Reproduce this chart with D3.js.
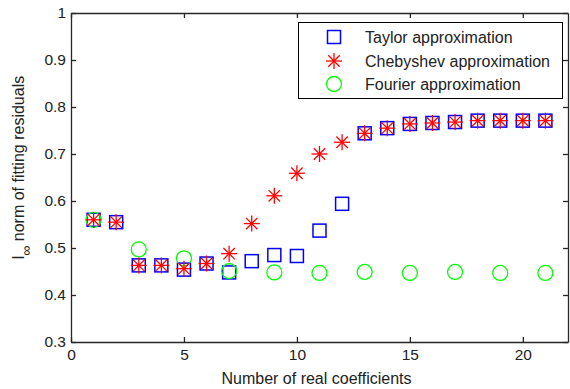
<!DOCTYPE html>
<html>
<head>
<meta charset="utf-8">
<script src="https://cdn.jsdelivr.net/npm/d3@7"></script>
<style>
  body { margin: 0; background: #fff; }
  svg text { font-family: "Liberation Sans", Arial, sans-serif; fill: #222; }
</style>
</head>
<body>
<div id="chart"></div>
<script>
// values
const taylorX = d3.range(1, 22);
const taylorY = [0.560, 0.555, 0.463, 0.463, 0.454, 0.467, 0.448, 0.472, 0.485, 0.483, 0.537,
                 0.594, 0.744, 0.755, 0.764, 0.766, 0.768, 0.771, 0.771, 0.771, 0.771];
const chebX = d3.range(1, 22);
const chebY = [0.560, 0.555, 0.463, 0.463, 0.456, 0.467, 0.488, 0.552, 0.611, 0.659, 0.700,
               0.725, 0.744, 0.755, 0.764, 0.766, 0.768, 0.771, 0.771, 0.771, 0.771];
const fourierX = [1, 3, 5, 7, 9, 11, 13, 15, 17, 19, 21];
const fourierY = [0.560, 0.497, 0.478, 0.451, 0.448, 0.447, 0.449, 0.447, 0.449, 0.447, 0.447];
const xTicks = [0, 5, 10, 15, 20];
const yTicks = [0.3, 0.4, 0.5, 0.6, 0.7, 0.8, 0.9, 1];
const legendLabels = ['Taylor approximation', 'Chebyshev approximation', 'Fourier approximation'];

let margin = { top: 13, right: 2, bottom: 47, left: 71 };
let W = 570, H = 389;
let width = W - margin.left - margin.right;
let height = H - margin.top - margin.bottom;

let svg = d3.select('#chart').append('svg')
    .attr('width', W).attr('height', H);
let g = svg.append('g')
    .attr('transform', 'translate(' + margin.left + ',' + margin.top + ')');

let x = d3.scaleLinear().domain([0, 22]).range([0, width]);
let y = d3.scaleLinear().domain([0.3, 1]).range([height, 0]);

function styleAxis(sel) {
    sel.selectAll('path').attr('stroke', '#262626').attr('stroke-width', 1.3);
    sel.selectAll('line').attr('stroke', '#262626').attr('stroke-width', 1.3);
    sel.selectAll('text').style('font-size', '15.5px').attr('fill', '#222');
}

g.append('g').attr('transform', 'translate(0,' + height + ')')
    .call(d3.axisBottom(x).tickValues(xTicks).tickSize(-5).tickSizeOuter(0).tickPadding(7)
        .tickFormat(d3.format('d')))
    .call(styleAxis);
g.append('g')
    .call(d3.axisTop(x).tickValues(xTicks).tickSize(-5).tickSizeOuter(0).tickFormat(''))
    .call(styleAxis);
g.append('g')
    .call(d3.axisLeft(y).tickValues(yTicks).tickSize(-5).tickSizeOuter(0).tickPadding(5)
        .tickFormat(d => d === 1 ? '1' : d3.format('.1f')(d)))
    .call(styleAxis);
g.append('g').attr('transform', 'translate(' + width + ',0)')
    .call(d3.axisRight(y).tickValues(yTicks).tickSize(-5).tickSizeOuter(0).tickFormat(''))
    .call(styleAxis);
g.selectAll('.domain').attr('fill', 'none');

// markers
function drawSquares(sel, cx, cy) {
    sel.append('rect').attr('x', cx - 6.5).attr('y', cy - 6.5)
        .attr('width', 13).attr('height', 13)
        .attr('fill', 'none').attr('stroke', '#0000ff').attr('stroke-width', 1.5);
}
function drawCircle(sel, cx, cy) {
    sel.append('circle').attr('cx', cx).attr('cy', cy).attr('r', 7.5)
        .attr('fill', 'none').attr('stroke', '#00ff00').attr('stroke-width', 1.3);
}
function drawStar(sel, cx, cy) {
    let r = 8, d = 5.7;
    let s = sel.append('g').attr('stroke', '#ff0000').attr('stroke-width', 1.3);
    s.append('line').attr('x1', cx - r).attr('x2', cx + r).attr('y1', cy).attr('y2', cy);
    s.append('line').attr('x1', cx).attr('x2', cx).attr('y1', cy - r).attr('y2', cy + r);
    s.append('line').attr('x1', cx - d).attr('x2', cx + d).attr('y1', cy - d).attr('y2', cy + d);
    s.append('line').attr('x1', cx - d).attr('x2', cx + d).attr('y1', cy + d).attr('y2', cy - d);
}

let marks = g.append('g');
taylorX.forEach(function(d, i) { drawSquares(marks, x(d), y(taylorY[i])); });
fourierX.forEach(function(d, i) { drawCircle(marks, x(d), y(fourierY[i])); });
chebX.forEach(function(d, i) { drawStar(marks, x(d), y(chebY[i])); });

// axis labels
svg.append('text')
    .attr('x', margin.left + width / 2 - 3).attr('y', 384)
    .attr('text-anchor', 'middle').style('font-size', '16px')
    .text('Number of real coefficients');

let yl = svg.append('text')
    .attr('transform', 'translate(24,' + (margin.top + height / 2 - 10) + ') rotate(-90)')
    .attr('text-anchor', 'middle').style('font-size', '16px');
yl.append('tspan').text('l');
yl.append('tspan').attr('dy', 7).style('font-size', '14px').text('\u221e');
yl.append('tspan').attr('dy', -7).text(' norm of fitting residuals');

// legend
let leg = svg.append('g');
leg.append('rect').attr('x', 298.5).attr('y', 22.5).attr('width', 264).attr('height', 76)
    .attr('fill', '#fff').attr('stroke', '#000').attr('stroke-width', 1);
let rowsY = [37, 61, 84];
drawSquares(leg, 334, rowsY[0]);
drawStar(leg, 334, rowsY[1]);
drawCircle(leg, 334, rowsY[2]);
legendLabels.forEach(function(t, i) {
    leg.append('text').attr('x', 365).attr('y', rowsY[i] + 6)
        .style('font-size', '16px').text(t);
});
</script>
</body>
</html>
